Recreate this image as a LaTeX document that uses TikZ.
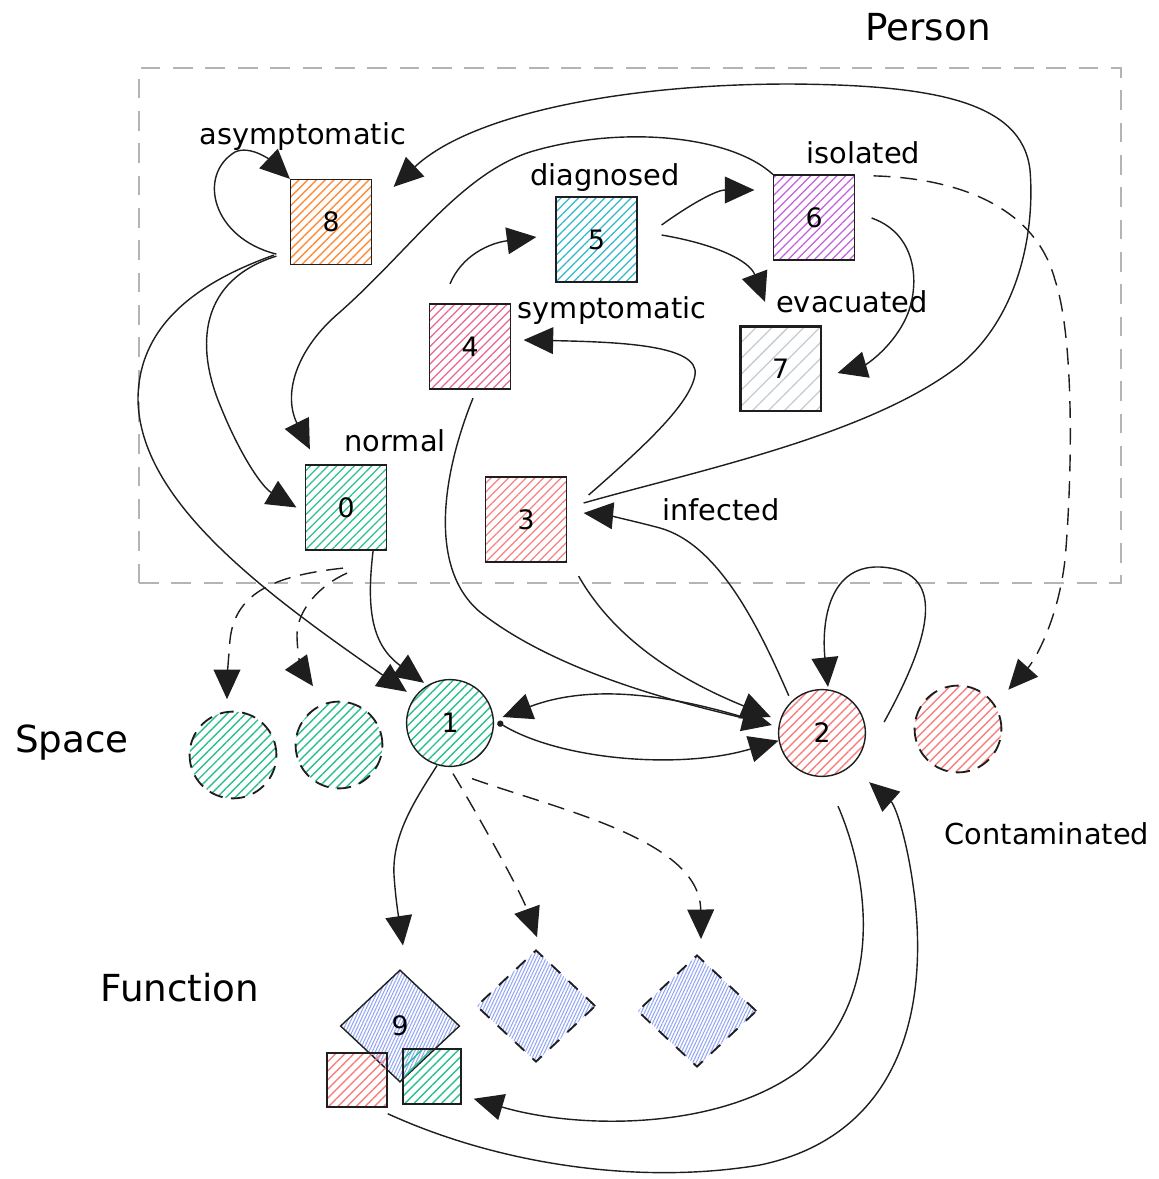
\documentclass[tikz,border=0pt]{standalone}
\usepackage{fontspec}
\setmainfont{DejaVu Sans}
\usepackage{tikz}
\usetikzlibrary{arrows.meta, positioning, shapes.geometric, patterns.meta}
\definecolor{ink}{HTML}{1E1E1E}
\definecolor{framegray}{HTML}{B4B4B4}
\definecolor{hatchorange}{HTML}{FD8C3C}
\definecolor{hatchteal}{HTML}{2BBF8F}
\definecolor{hatchred}{HTML}{F77F7F}
\definecolor{hatchcyan}{HTML}{2FB7CB}
\definecolor{hatchgrape}{HTML}{C25FE0}
\definecolor{hatchpink}{HTML}{E8658F}
\definecolor{hatchgray}{HTML}{C3CAD2}
\definecolor{hatchindigo}{HTML}{93A6F5}

\begin{document}
\begin{tikzpicture}[
  x=0.025cm, y=-0.025cm,
  bigtip/.tip={Triangle[length=21pt, width=19pt]},
  statebox/.style={draw=ink, line width=1pt, minimum width=2.02cm, minimum height=2.12cm,
                   inner sep=0pt, font=\fontsize{19}{19}\selectfont,
                   pattern={Lines[angle=45, distance=4.4pt, line width=1pt]}, pattern color=#1},
  zone/.style={circle, draw=ink, line width=1pt, minimum size=2.17cm, inner sep=0pt,
               font=\fontsize{19}{19}\selectfont,
               pattern={Lines[angle=45, distance=4.6pt, line width=1pt]}, pattern color=#1},
  ghostzone/.style={zone=#1, line width=1.3pt, dash pattern=on 10pt off 6pt},
  func/.style={diamond, draw=ink, line width=1pt, minimum width=2.98cm, minimum height=2.8cm,
               inner sep=0pt, font=\fontsize{19}{19}\selectfont,
               pattern={Lines[angle=65, distance=2.1pt, line width=0.75pt]}, pattern color=hatchindigo},
  ghostfunc/.style={func, line width=1.3pt, dash pattern=on 9pt off 8pt},
  piece/.style={draw=ink, line width=1pt, inner sep=0pt,
                pattern={Lines[angle=45, distance=4.6pt, line width=1pt]}, pattern color=#1},
  personframe/.style={draw=framegray, line width=1.6pt, dash pattern=on 14pt off 9pt},
  lbl/.style={font=\fontsize{20.5}{20.5}\selectfont, inner sep=0pt},
  grouplbl/.style={font=\fontsize{26.5}{26.5}\selectfont, inner sep=0pt},
  arr/.style={-bigtip, line width=1pt, draw=ink},
  darr/.style={arr, dash pattern=on 12pt off 7pt},
  dotarr/.style={arr, {Circle[length=4.5pt]}-bigtip}
]
  \useasboundingbox (0,0) rectangle (1159,1179);

  \node[personframe, minimum width=24.55cm, minimum height=12.875cm] (person) at (630,325.5) {};
  \node[grouplbl] (person-lbl) at (928,27) {Person};
  \node[grouplbl] (space-lbl) at (72,743) {Space};
  \node[grouplbl] (func-lbl) at (180,988) {Function};
  \node[lbl] (contam-lbl) at (1047,834) {Contaminated};

  \node[statebox=hatchorange] (asym) at (331,222) {8};
  \node[statebox=hatchcyan] (diag) at (596.5,239.5) {5};
  \node[statebox=hatchgrape] (isol) at (814,217.5) {6};
  \node[statebox=hatchpink] (sympt) at (470,346.5) {4};
  \node[statebox=hatchgray, line width=2pt,
        pattern={Lines[angle=45, distance=8pt, line width=0.9pt]}] (evac) at (780.5,368.5) {7};
  \node[statebox=hatchteal] (normal) at (346,507.5) {0};
  \node[statebox=hatchred] (infected) at (526,519.5) {3};

  \node[lbl, above=20pt of asym, xshift=-20pt] (asym-lbl) {asymptomatic};
  \node[lbl, above=3.5pt of diag, xshift=6pt] (diag-lbl) {diagnosed};
  \node[lbl, above=7pt of isol, xshift=35pt] (isol-lbl) {isolated};
  \node[lbl] (sympt-lbl) at (612,311) {symptomatic};
  \node[lbl] (evac-lbl) at (852,302) {evacuated};
  \node[lbl, above=9pt of normal, xshift=35pt] (normal-lbl) {normal};
  \node[lbl] (infected-lbl) at (721,510) {infected};

  \node[zone=hatchteal] (space) at (450,723) {1};
  \node[zone=hatchred] (contam) at (822,733) {2};
  \node[ghostzone=hatchteal] (spaceA) at (233,755) {};
  \node[ghostzone=hatchteal] (spaceB) at (339,745) {};
  \node[ghostzone=hatchred] (contamB) at (958,729) {};

  \node[func] (fn) at (400,1026) {9};
  \node[ghostfunc] (fnB) at (536,1006) {};
  \node[ghostfunc] (fnC) at (697,1011) {};
  \node[piece=hatchred, minimum width=1.5cm, minimum height=1.35cm] (fred) at (357,1080) {};
  \node[piece=hatchteal, minimum width=1.45cm, minimum height=1.375cm] (fgreen) at (432,1076.5) {};

  \draw[arr] ([shift={(-13.5,-11)}]asym.south west) .. controls (212,238) and (197,175) .. (235,152)
    .. controls (250,145) and (270,160) .. (asym.north west);
  \draw[arr] ([shift={(16.5,-16.5)}]infected.east) .. controls (700,470) and (870,435) .. (960,365)
    .. controls (1020,315) and (1035,230) .. (1030,170) .. controls (1022,100) and (930,85) .. (790,84)
    .. controls (620,84) and (470,115) .. ([shift={(21.5,8)}]asym.north east);
  \draw[arr] (isol.north west) .. controls (730,135) and (620,125) .. (530,152)
    .. controls (460,175) and (410,250) .. (340,312)
    .. controls (295,350) and (283,395) .. ([shift={(5,-15)}]normal.north west);
  \draw[arr] ([shift={(-13.5,-9)}]asym.south west) .. controls (200,280) and (195,345) .. (220,405)
    .. controls (240,455) and (262,487) .. ([xshift=-6pt]normal.west);
  \draw[arr] ([shift={(-16,-10)}]asym.south west) .. controls (190,285) and (138,330) .. (138,400)
    .. controls (140,500) and (260,590) .. ([shift={(-12,0)}]space.north west);
  \draw[arr] ([shift={(-14,0)}]normal.south east) .. controls (366,610) and (372,645) .. ([shift={(-4,-2)}]space.120);
  \draw[darr] ([shift={(-3,17.5)}]normal.south) .. controls (280,575) and (235,590) .. (230,640)
    .. controls (228,665) and (227,680) .. ([shift={(-6,-11.5)}]spaceA.north);
  \draw[darr] ([shift={(1,22.5)}]normal.south) .. controls (320,585) and (297,610) .. (297,635)
    .. controls (297,655) and (303,672) .. ([shift={(-26,-14.5)}]spaceB.north);

  \draw[arr] ([shift={(-20,-19.5)}]sympt.north) .. controls (462,255) and (490,243) .. ([shift={(-19,-2.5)}]diag.west);
  \draw[arr] ([shift={(24,-14.5)}]diag.east) .. controls (685,208) and (715,190) .. ([shift={(-18.5,-27.5)}]isol.west);
  \draw[arr] ([shift={(24,-4.5)}]diag.east) .. controls (720,245) and (750,262) .. ([shift={(-15.5,-23.5)}]evac.north);
  \draw[arr] ([shift={(16.5,0.5)}]isol.east) .. controls (920,235) and (920,290) .. (905,320)
    .. controls (890,350) and (865,365) .. ([shift={(16,4.5)}]evac.east);
  \draw[darr] ([shift={(18.5,1.5)}]isol.north east) .. controls (955,178) and (1035,205) .. (1055,280)
    .. controls (1075,340) and (1072,480) .. (1065,560)
    .. controls (1058,620) and (1035,660) .. ([shift={(19,-8)}]contamB.north east);
  \draw[arr] ([shift={(21.5,-24.5)}]infected.east) .. controls (640,450) and (690,405) .. (695,375)
    .. controls (700,345) and (620,342) .. ([shift={(12.5,-6.5)}]sympt.east);

  \draw[arr] ([shift={(11.5,13.5)}]infected.south east) .. controls (615,640) and (680,680) .. ([shift={(-7,-16)}]contam.west);
  \draw[arr] ([shift={(3,8.5)}]sympt.south) .. controls (440,480) and (430,570) .. (480,612)
    .. controls (560,675) and (690,705) .. ([shift={(-6,-8)}]contam.west);
  \draw[arr] ([shift={(-2,-6)}]contam.north west) .. controls (760,630) and (720,545) .. (660,528)
    .. controls (630,520) and (605,515) .. ([shift={(16.5,-6.5)}]infected.east);
  \draw[arr] ([shift={(18,-11)}]contam.east) .. controls (935,630) and (945,570) .. (880,567)
    .. controls (825,565) and (822,630) .. ([shift={(6,-2)}]contam.north);
  \draw[arr] ([shift={(-19,-11)}]contam.west) .. controls (690,700) and (600,680) .. ([shift={(8.5,-6)}]space.east);
  \draw[dotarr] ([shift={(3.5,-1)}]space.east) .. controls (560,760) and (680,770) .. (contam.190);

  \draw[arr] ([shift={(-13,-1.5)}]space.south) .. controls (415,800) and (392,835) .. (394,875)
    .. controls (396,905) and (400,925) .. ([shift={(3,-24)}]fn.north);
  \draw[darr] ([shift={(3,6.5)}]space.south) .. controls (475,810) and (520,890) .. ([shift={(1,-12)}]fnB.north);
  \draw[darr] ([shift={(22,11.5)}]space.south) .. controls (560,810) and (700,840) .. ([shift={(4,-15)}]fnC.north);
  \draw[arr] ([shift={(16,29)}]contam.south) .. controls (870,880) and (885,1000) .. (800,1070)
    .. controls (720,1130) and (580,1130) .. ([shift={(12,-6)}]fgreen.south east);
  \draw[arr] ([shift={(0,6)}]fred.south east) .. controls (500,1165) and (640,1185) .. (760,1165)
    .. controls (880,1140) and (930,1040) .. (915,900)
    .. controls (908,840) and (895,805) .. ([shift={(16,18)}]contam.south east);
\end{tikzpicture}
\end{document}
